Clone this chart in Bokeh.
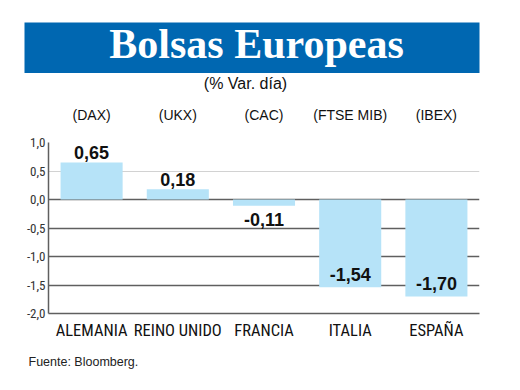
from bokeh.plotting import figure
from bokeh.models import (ColumnDataSource, FactorRange, FixedTicker, Grid, CategoricalAxis, Range1d)
from bokeh.layouts import column
from bokeh.embed import file_html
from bokeh.resources import INLINE
from bokeh.core.properties import value

# ---- data ----
categories = ["ALEMANIA", "REINO UNIDO", "FRANCIA", "ITALIA", "ESPAÑA"]
indices = ["(DAX)", "(UKX)", "(CAC)", "(FTSE MIB)", "(IBEX)"]
values = [0.65, 0.18, -0.11, -1.54, -1.70]
y_ticks = [-2.0, -1.5, -1.0, -0.5, 0.0, 0.5, 1.0]
y_tick_labels = ["-2,0", "-1,5", "-1,0", "-0,5", "0,0", "0,5", "1,0"]
title_text = "Bolsas Europeas"
subtitle_text = "(% Var. día)"
source_text = "Fuente: Bloomberg."

BLUE = "#0067b1"
BAR = "#b6e3f8"
DARK = "#5f5f5f"
LIGHT = "#d2d2d2"
COND = "Roboto Condensed"
SANS = "Liberation Sans"
W = 520


def no_align(fig):
    if "frame_align" in fig.properties():
        fig.frame_align = False
    return fig


# ---------------- header ----------------
HH = 100
head = figure(x_range=Range1d(0, W), y_range=Range1d(HH, 0), frame_width=W, frame_height=HH,
              min_border=0, x_axis_type=None, y_axis_type=None,
              output_backend="svg", toolbar_location=None)
no_align(head)
head.outline_line_color = None
head.grid.visible = False
head.quad(left=[24], right=[479], top=[22], bottom=[72.5], fill_color=BLUE, line_color=None)
head.text(x=[256], y=[43], text=[title_text], text_align="center", text_baseline="alphabetic",
          text_color="white", text_font=value("Liberation Serif"), text_font_style="bold",
          text_font_size="42px")
head.text(x=[245], y=[83], text=[subtitle_text], text_align="center", text_baseline="alphabetic",
          text_color="#111111", text_font=value(SANS), text_font_size="16px")

# ---------------- chart ----------------
labels = [f"{v:.2f}".replace(".", ",") for v in values]
offsets = [-10 if v >= 0 else (14 if v > -0.5 else -13) for v in values]
src = ColumnDataSource(dict(cat=categories, val=values, lab=labels, off=offsets))

p = figure(x_range=FactorRange(factors=categories, range_padding=0),
           y_range=Range1d(-2, 1),
           frame_width=431, frame_height=171,
           min_border_left=48, min_border_right=41, min_border_top=42, min_border_bottom=37,
           output_backend="svg", toolbar_location=None)
no_align(p)
p.outline_line_color = None
p.extra_x_ranges["idx"] = FactorRange(factors=indices, range_padding=0)

p.xgrid.visible = False
p.ygrid.ticker = FixedTicker(ticks=[1.0, 0.0, -0.5, -1.0, -1.5])
p.ygrid.grid_line_color = DARK
p.ygrid.grid_line_width = 1.5
p.add_layout(Grid(dimension=1, ticker=FixedTicker(ticks=[0.5]), grid_line_color=LIGHT,
                  grid_line_width=1.2))

p.vbar(x="cat", top="val", bottom=0, width=0.72, source=src, fill_color=BAR, line_color=None)

p.text(x="cat", y="val", text="lab", y_offset="off", source=src, text_align="center",
       text_baseline="alphabetic", text_font=value(SANS), text_font_style="bold",
       text_font_size="18px", text_color="#111111")

ya = p.yaxis[0]
ya.ticker = FixedTicker(ticks=y_ticks)
ya.major_label_overrides = {t: s for t, s in zip(y_ticks, y_tick_labels)}
ya.axis_line_color = DARK
ya.axis_line_width = 1.5
ya.major_tick_line_color = None
ya.minor_tick_line_color = None
ya.major_tick_out = 0
ya.major_label_standoff = 3
ya.major_label_text_font = COND
ya.major_label_text_font_size = "13px"
ya.major_label_text_color = "#333333"

xa = p.xaxis[0]
xa.axis_line_color = DARK
xa.axis_line_width = 1.5
xa.major_tick_line_color = None
xa.major_tick_out = 0
xa.major_label_standoff = 7
xa.major_label_text_font = COND
xa.major_label_text_font_size = "16.5px"
xa.major_label_text_color = "#111111"

ta = CategoricalAxis(x_range_name="idx")
ta.axis_line_color = None
ta.major_tick_line_color = None
ta.major_tick_out = 0
ta.major_label_standoff = 20
ta.major_label_text_font = SANS
ta.major_label_text_font_size = "14px"
ta.major_label_text_color = "#111111"
p.add_layout(ta, "above")

# ---------------- footer ----------------
FH = 40
foot = figure(x_range=Range1d(0, W), y_range=Range1d(FH, 0), frame_width=W, frame_height=FH,
              min_border=0, x_axis_type=None, y_axis_type=None,
              output_backend="svg", toolbar_location=None)
no_align(foot)
foot.outline_line_color = None
foot.grid.visible = False
foot.text(x=[28], y=[11], text=[source_text], text_align="left", text_baseline="alphabetic",
          text_color="#222222", text_font=value(SANS), text_font_size="12.5px")

layout = column(head, p, foot, spacing=0)
open("out.html", "w").write(file_html(layout, INLINE))
